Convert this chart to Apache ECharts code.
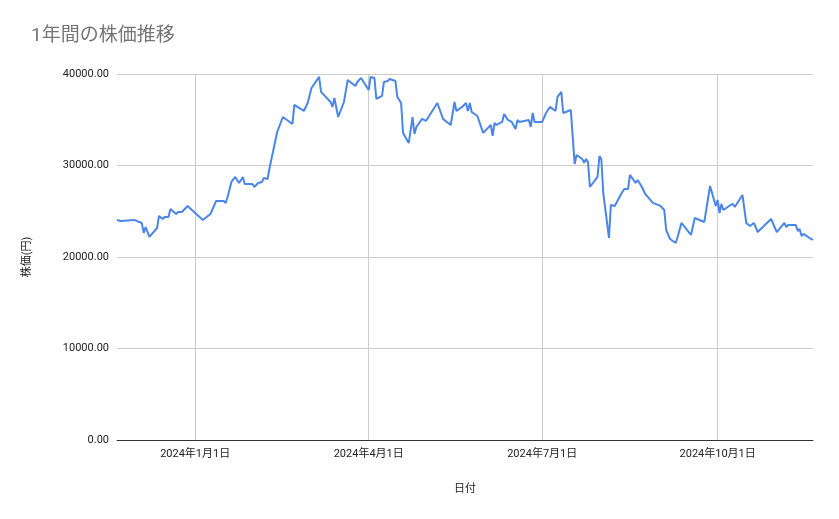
<!DOCTYPE html>
<html><head><meta charset="utf-8">
<script src="https://cdn.jsdelivr.net/npm/echarts@6/dist/echarts.min.js"></script>
<style>html,body{margin:0;background:#fff}#c{width:839px;height:519px}</style>
</head><body><div id="c"></div>
<script>
// days counted from 2024-01-01
const dayOffsets = [-41,-40,-39,-32,-28,-27,-26,-24,-20,-19,-17,-16,-14,-13,-12,-10,-9,-7,-4,4,8,11,15,16,17,19,21,23,25,26,30,31,33,35,36,38,39,43,44,46,51,52,57,59,61,65,66,67,71,72,73,74,75,78,80,
  84,85,87,88,91,92,94,95,98,99,101,102,105,106,108,109,112,113,114,115,116,119,121,127,130,134,136,137,140,142,143,144,145,148,151,155,156,157,158,161,162,163,164,166,168,169,170,175,176,177,178,182,184,185,186,189,190,192,193,197,
  199,200,203,204,205,206,207,211,212,213,214,217,218,220,224,225,227,228,231,232,234,236,240,244,246,247,249,252,253,254,255,260,261,262,267,270,273,274,275,276,277,280,281,282,283,287,289,291,293,295,302,303,305,309,310,311,315,316,317,318,319,323,324];
const prices = [24050,24150,23940,24050,23720,22630,23280,22190,23170,24480,24150,24370,24370,25250,25250,24700,24920,24920,25580,24050,24700,26120,26120,25900,26560,28200,28750,28090,28750,27980,27980,27650,28090,28200,28640,28530,29730,33660,33450,35300,34540,36620,35960,36830,38470,39680,38040,38250,36940,36400,37380,37270,35300,36940,39350,
  38690,39130,39570,39680,38250,39680,39570,37270,37600,39130,39240,39460,39240,37490,36830,33560,32460,32460,35300,33450,34210,35090,34870,36830,35090,34430,36940,35960,36400,36830,35960,36830,35850,35410,33560,34430,33230,34650,34430,34760,35630,35520,34980,34760,33990,34980,34760,34980,34210,35740,34760,34760,35740,35850,36400,35960,37490,38040,35740,36070,
  30170,31150,30710,30280,30710,30390,27650,28750,31040,30710,27000,22080,25690,25580,27110,27430,27430,28970,28090,28420,27760,26890,25910,25580,25140,22950,21970,21530,22190,22190,23720,22410,22410,24260,23830,27760,25580,26230,24810,25800,25140,25580,25470,25800,25470,26780,23720,23390,23720,22730,24150,24050,22730,23720,23280,23500,23500,22840,23060,22300,22520,21970,21860];
const yTicks = [0, 10000, 20000, 30000, 40000];
const xTickDays = [0, 91, 182, 274]; // 1/1, 4/1, 7/1, 10/1
const DAY = 86400000, BASE = Date.UTC(2024, 0, 1);
const seriesData = dayOffsets.map((d, i) => [BASE + d * DAY, prices[i]]);
const xTicks = xTickDays.map(d => BASE + d * DAY);

const chart = echarts.init(document.getElementById('c'));
const font = 'Roboto, "Noto Sans CJK JP", sans-serif';
chart.setOption({
  animation: false,
  textStyle: { fontFamily: font },
  title: { text: '1年間の株価推移', left: 26, top: 22, textStyle: { color: '#757575', fontSize: 19, fontWeight: 'normal', fontFamily: font } },
  grid: { left: 117, right: 26, top: 74, bottom: 79 },
  xAxis: {
    type: 'value', min: BASE - 41 * DAY, max: BASE + 324 * DAY,
    name: '日付', nameLocation: 'middle', nameGap: 44, nameTextStyle: { color: '#222', fontSize: 11 },
    axisLine: { lineStyle: { color: '#333' } },
    axisTick: { show: false, customValues: xTicks },
    splitLine: { show: false },
    axisLabel: {
      color: '#222', fontSize: 11, margin: 9, customValues: xTicks,
      formatter: v => { const d = new Date(v); return d.getUTCFullYear() + '年' + (d.getUTCMonth()+1) + '月' + d.getUTCDate() + '日'; }
    }
  },
  yAxis: {
    type: 'value', min: 0, max: 40000, interval: 10000,
    name: '株価(円)', nameLocation: 'middle', nameGap: 84, nameTextStyle: { color: '#222', fontSize: 11 },
    axisLine: { show: false }, axisTick: { show: false },
    splitLine: { lineStyle: { color: '#ccc' } },
    axisLabel: { color: '#222', fontSize: 11, formatter: v => yTicks.includes(v) ? v.toFixed(2) : '' }
  },
  series: [{
    type: 'line', data: seriesData, showSymbol: false, lineStyle: { color: '#4a86e8', width: 2 }, itemStyle: { color: '#4a86e8' }, z: 3,
    markLine: { silent: true, symbol: 'none', label: { show: false }, lineStyle: { color: '#ccc', type: 'solid', width: 1 }, z: 1,
      data: xTicks.map(t => ({ xAxis: t })) }
  }]
});
</script></body></html>
